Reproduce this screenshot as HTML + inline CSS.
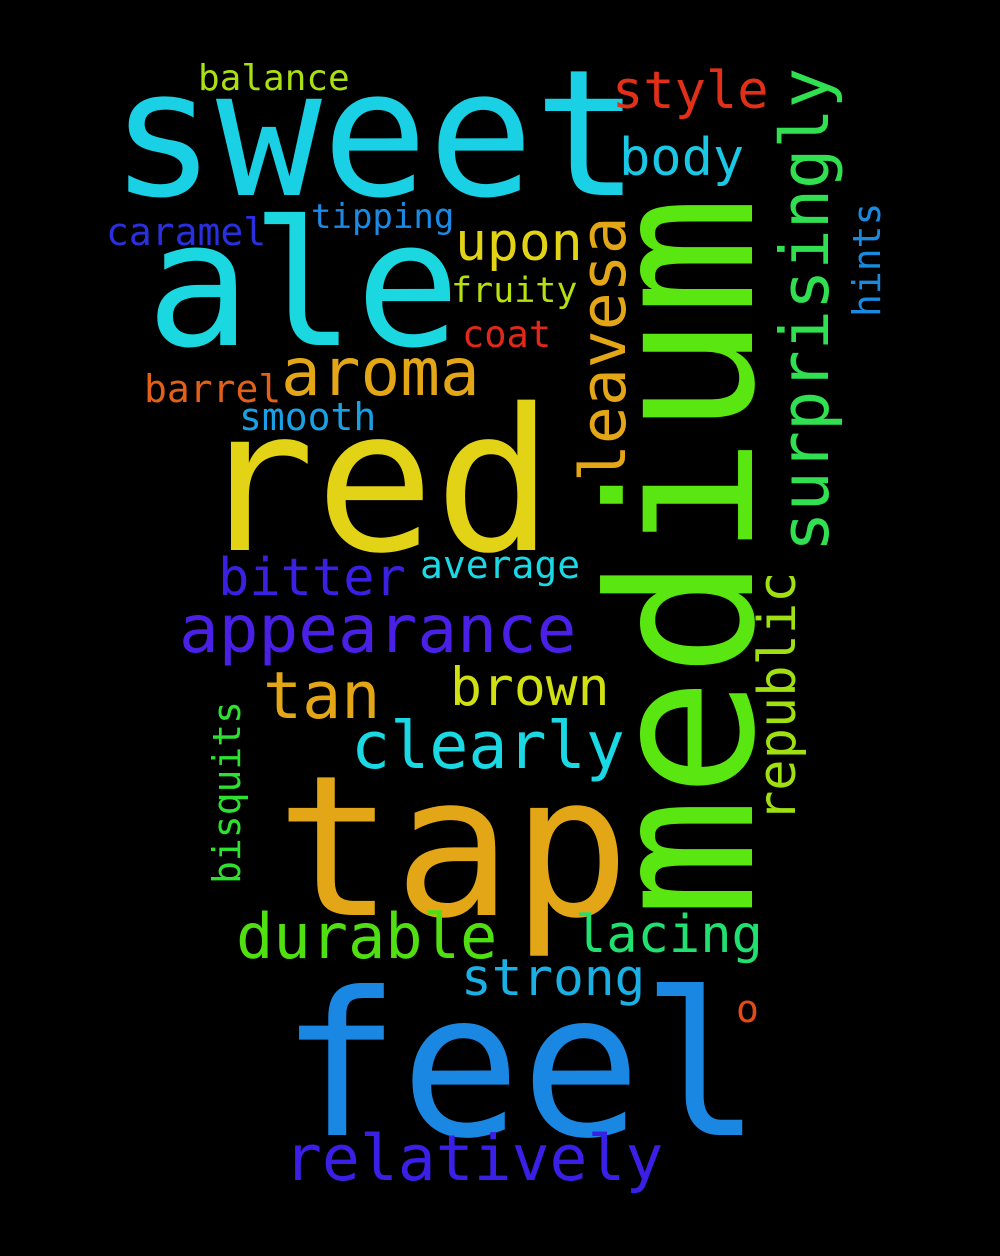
<!DOCTYPE html>
<html><head><meta charset="utf-8"><style>
html,body{margin:0;padding:0;background:#000;}
svg{display:block}
text{font-family:"DejaVu Sans Mono","Liberation Mono",monospace;}
</style></head><body>
<svg width="1000" height="1256" viewBox="0 0 1000 1256">
<rect width="1000" height="1256" fill="#000"/>
<g id="words"></g>
</svg>
<script>
const words = ["sweet","ale","red","tap","feel","medium","surprisingly","leavesa","republic","hints","bisquits","o","balance","style","body","caramel","tipping","upon","fruity","coat","aroma","barrel","smooth","bitter","average","appearance","tan","brown","clearly","durable","lacing","strong","relatively"];
const sizes = [176,174,198,196,200,200,67,63,52,38,38,38,36,52,52,38,34,53,35,37,66,38,38,52,38,66,65,53,65,62,52,51,63];
const colors = ["#1ad0e4","#1bd8e0","#e2d316","#e3a617","#1a87e2","#5ae611","#30e050","#e3a617","#a0e010","#1a8ae0","#2ee030","#e24a18","#a8e010","#e23018","#1ac8e6","#2a30e0","#1a8ae4","#e2d316","#b8e010","#e22818","#e3a617","#e26018","#1aa0e4","#3a20e2","#1ad8e4","#4a20e6","#e3a617","#d0e010","#1ad8e4","#50e012","#20e070","#1ab0e4","#3a20e6"];
const xs = [110,146,196,276,280,752,828,625,795,880,240,736,198,612,619,106,311,455,451,462,281,144,239,218,420,179,263,450,351,236,575,461,284];
const ys = [195,345,550,915,1135,918,552,482,822,317,884,1022,90,108,175,245,228,260,302,347,395,402,430,595,578,652,718,705,768,958,952,995,1180];
const rot = [0,0,0,0,0,1,1,1,1,1,1,0,0,0,0,0,0,0,0,0,0,0,0,0,0,0,0,0,0,0,0,0,0];
const g = document.getElementById('words');
words.forEach((w,i)=>{
  const t = document.createElementNS('http://www.w3.org/2000/svg','text');
  
  
  t.setAttribute('font-size', sizes[i]);
  t.setAttribute('fill', colors[i]);
  if (rot[i]) {
    t.setAttribute('transform', 'translate(' + xs[i] + ',' + ys[i] + ') rotate(-90)');
  } else {
    t.setAttribute('x', xs[i]);
    t.setAttribute('y', ys[i]);
  }
  t.textContent = w;
  g.appendChild(t);
});
</script>
</body></html>
